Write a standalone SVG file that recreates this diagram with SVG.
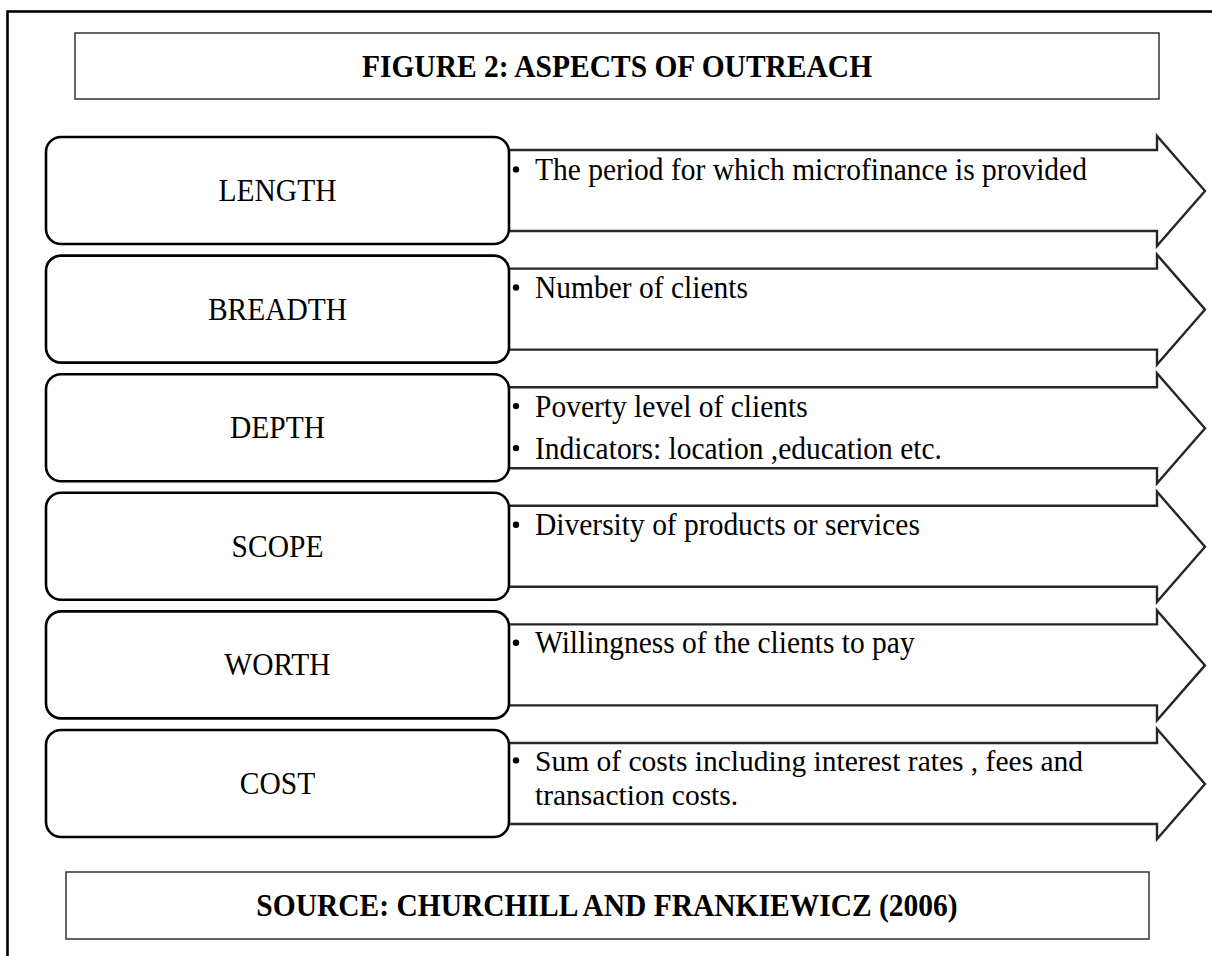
<svg xmlns="http://www.w3.org/2000/svg" xmlns:xlink="http://www.w3.org/1999/xlink" width="1212" height="956" viewBox="0 0 1212 956">
<style>
  .frame{fill:none;stroke:#000;stroke-width:2.6}
  .tbox{fill:#fff;stroke:#333;stroke-width:1.5}
  .arrow{fill:#fff;stroke:#262626;stroke-width:2.4;stroke-linejoin:miter}
  .box{fill:#fff;stroke:#000;stroke-width:2.6}
  text{font-family:"Liberation Serif","Times New Roman",serif;fill:#000}
  .title{font-size:29.5px;font-weight:bold;text-anchor:middle}
  .label{font-size:29.5px;text-anchor:middle}
  .body{font-size:29.5px}
</style>
<defs>
  <polygon id="arr" class="arrow" points="480,13 1157,13 1157,-1 1205,54 1157,109 1157,94 480,94"/>
  <rect id="rbox" class="box" x="46" y="0" width="463" height="107" rx="15" ry="15"/>
  <circle id="dot" cx="516" cy="-10.6" r="3.2" fill="#000"/>
</defs>
<rect width="1212" height="956" fill="#fff"/>
<rect class="frame" x="7.5" y="11.5" width="1230" height="970"/>

<g id="title">
  <rect class="tbox" x="75" y="33" width="1084" height="66"/>
  <text class="title" transform="translate(617,76.5) scale(1,1.1)">FIGURE 2: ASPECTS OF OUTREACH</text>
</g>

<g id="connectors"></g>

<g id="length" transform="translate(0,137)">
  <use xlink:href="#arr" href="#arr"/>
  <use xlink:href="#rbox" href="#rbox"/>
  <text class="label" transform="translate(277.5,64) scale(1,1.1)">LENGTH</text>
  <use xlink:href="#dot" href="#dot" y="43"/>
  <text class="body" transform="translate(535,43) scale(1,1.1)">The period for which microfinance is provided</text>
</g>

<g id="breadth" transform="translate(0,255.6)">
  <use xlink:href="#arr" href="#arr"/>
  <use xlink:href="#rbox" href="#rbox"/>
  <text class="label" transform="translate(277.5,64) scale(1,1.1)">BREADTH</text>
  <use xlink:href="#dot" href="#dot" y="42.5"/>
  <text class="body" transform="translate(535,42.5) scale(1,1.1)">Number of clients</text>
</g>

<g id="depth" transform="translate(0,374.2)">
  <use xlink:href="#arr" href="#arr"/>
  <use xlink:href="#rbox" href="#rbox"/>
  <text class="label" transform="translate(277.5,64) scale(1,1.1)">DEPTH</text>
  <use xlink:href="#dot" href="#dot" y="42.5"/>
  <text class="body" transform="translate(535,42.5) scale(1,1.1)">Poverty level of clients</text>
  <use xlink:href="#dot" href="#dot" y="84.5"/>
  <text class="body" transform="translate(535,84.5) scale(1,1.1)">Indicators: location ,education etc.</text>
</g>

<g id="scope" transform="translate(0,492.8)">
  <use xlink:href="#arr" href="#arr"/>
  <use xlink:href="#rbox" href="#rbox"/>
  <text class="label" transform="translate(277.5,64) scale(1,1.1)">SCOPE</text>
  <use xlink:href="#dot" href="#dot" y="42.5"/>
  <text class="body" transform="translate(535,42.5) scale(1,1.1)">Diversity of products or services</text>
</g>

<g id="worth" transform="translate(0,611.4)">
  <use xlink:href="#arr" href="#arr"/>
  <use xlink:href="#rbox" href="#rbox"/>
  <text class="label" transform="translate(277.5,64) scale(1,1.1)">WORTH</text>
  <use xlink:href="#dot" href="#dot" y="42"/>
  <text class="body" transform="translate(535,42) scale(1,1.1)">Willingness of the clients to pay</text>
</g>

<g id="cost" transform="translate(0,730)">
  <use xlink:href="#arr" href="#arr"/>
  <use xlink:href="#rbox" href="#rbox"/>
  <text class="label" transform="translate(277.5,64) scale(1,1.1)">COST</text>
  <use xlink:href="#dot" href="#dot" y="41"/>
  <text class="body" x="535" y="41">Sum of costs including interest rates , fees and</text>
  <text class="body" x="535" y="74.5">transaction costs.</text>
</g>

<g id="source">
  <rect class="tbox" x="66" y="872" width="1083" height="67"/>
  <text class="title" transform="translate(607,915.5) scale(1,1.1)">SOURCE: CHURCHILL AND FRANKIEWICZ (2006)</text>
</g>
</svg>
